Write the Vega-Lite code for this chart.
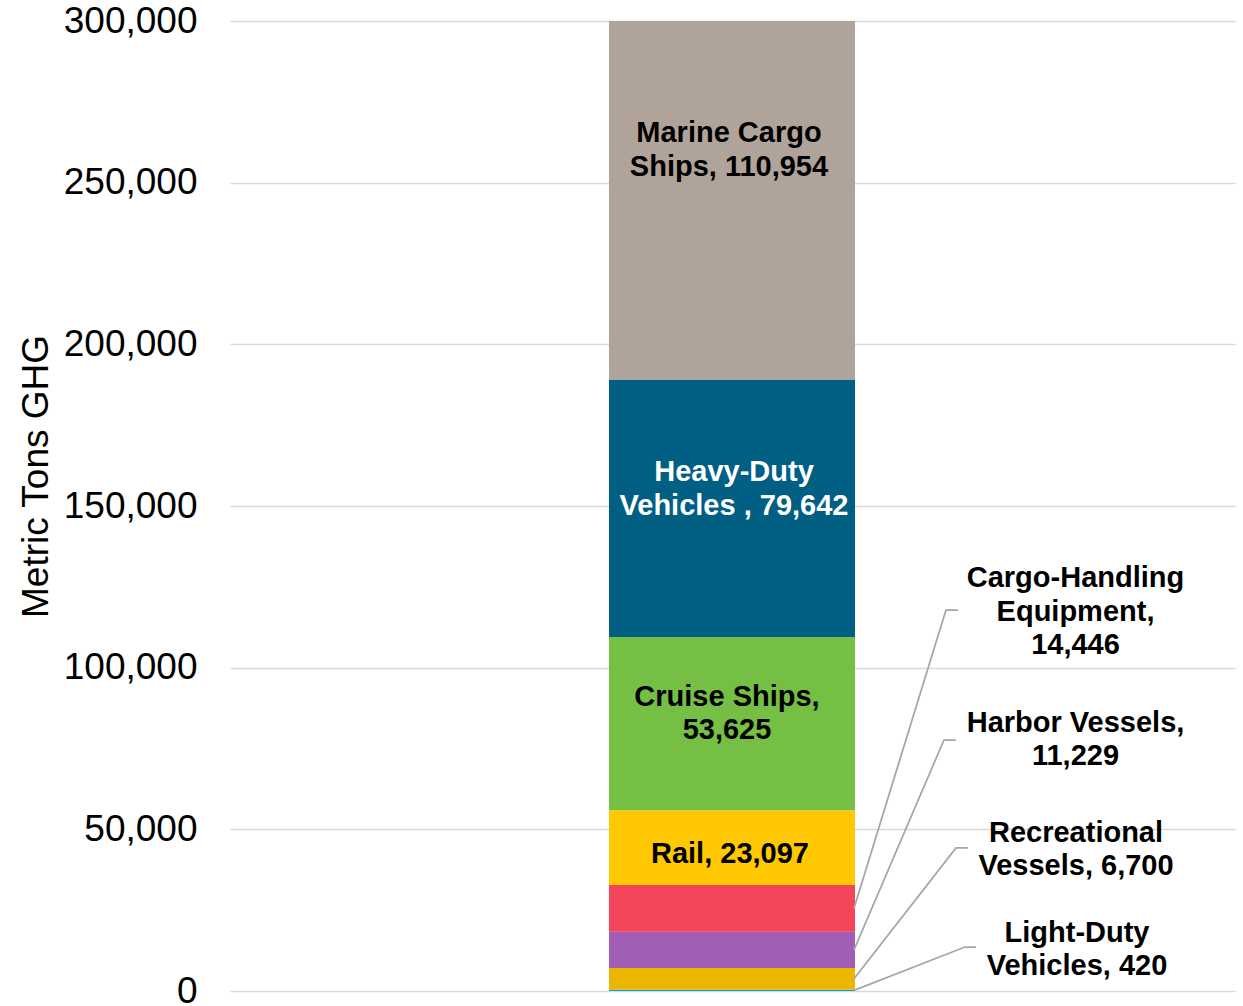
{
  "$schema": "https://vega.github.io/schema/vega-lite/v6.json",
  "width": 1005,
  "height": 970,
  "autosize": "none",
  "padding": {"left": 230, "top": 21, "right": 8, "bottom": 15},
  "background": "white",
  "config": {
    "view": {"stroke": null},
    "font": "Liberation Sans",
    "axisY": {
      "format": ",d",
      "ticks": false,
      "domain": false,
      "grid": true,
      "gridColor": "#D9D9D9",
      "gridWidth": 1.5,
      "labelFont": "Liberation Sans",
      "labelFontSize": 37,
      "labelColor": "black",
      "labelPadding": 33,
      "titleFont": "Liberation Sans",
      "titleFontSize": 37,
      "titleFontWeight": "normal",
      "titleColor": "black",
      "titlePadding": 8,
      "titleY": 455
    }
  },
  "datasets": {
    "segments": [
      {"category": "Light-Duty Vehicles", "value": 420, "rank": 1},
      {"category": "Recreational Vessels", "value": 6700, "rank": 2},
      {"category": "Harbor Vessels", "value": 11229, "rank": 3},
      {"category": "Cargo-Handling Equipment", "value": 14446, "rank": 4},
      {"category": "Rail", "value": 23097, "rank": 5},
      {"category": "Cruise Ships", "value": 53625, "rank": 6},
      {"category": "Heavy-Duty Vehicles", "value": 79642, "rank": 7},
      {"category": "Marine Cargo Ships", "value": 110954, "rank": 8}
    ],
    "labels": [
      {"text": "Marine Cargo\nShips, 110,954", "x": 49.65, "y": 265360, "light": false},
      {"text": "Heavy-Duty\nVehicles , 79,642", "x": 50.15, "y": 160500, "light": true},
      {"text": "Cruise Ships,\n53,625", "x": 49.45, "y": 90930, "light": false},
      {"text": "Rail, 23,097", "x": 49.75, "y": 42400, "light": false},
      {"text": "Cargo-Handling\nEquipment,\n14,446", "x": 84.13, "y": 127730, "light": false},
      {"text": "Harbor Vessels,\n11,229", "x": 84.13, "y": 82890, "light": false},
      {"text": "Recreational\nVessels, 6,700", "x": 84.18, "y": 48870, "light": false},
      {"text": "Light-Duty\nVehicles, 420", "x": 84.28, "y": 17940, "light": false}
    ],
    "leaders": [
      {"group": "Cargo-Handling Equipment", "pt": 1, "x": 62.09, "y": 25572},
      {"group": "Cargo-Handling Equipment", "pt": 2, "x": 71.24, "y": 117835},
      {"group": "Cargo-Handling Equipment", "pt": 3, "x": 72.44, "y": 117835},
      {"group": "Harbor Vessels", "pt": 1, "x": 62.09, "y": 12735},
      {"group": "Harbor Vessels", "pt": 2, "x": 71.04, "y": 77629},
      {"group": "Harbor Vessels", "pt": 3, "x": 72.24, "y": 77629},
      {"group": "Recreational Vessels", "pt": 1, "x": 62.09, "y": 3770},
      {"group": "Recreational Vessels", "pt": 2, "x": 72.24, "y": 44227},
      {"group": "Recreational Vessels", "pt": 3, "x": 73.43, "y": 44227},
      {"group": "Light-Duty Vehicles", "pt": 1, "x": 62.09, "y": 210},
      {"group": "Light-Duty Vehicles", "pt": 2, "x": 73.13, "y": 13608},
      {"group": "Light-Duty Vehicles", "pt": 3, "x": 74.23, "y": 13608}
    ]
  },
  "layer": [
    {
      "data": {"name": "segments"},
      "transform": [
        {"stack": "value", "groupby": [], "sort": [{"field": "rank", "order": "ascending"}], "as": ["v0", "v1"]}
      ],
      "mark": {"type": "rect", "clip": true},
      "encoding": {
        "x": {"datum": 37.71, "type": "quantitative", "scale": {"domain": [0, 100], "nice": false, "zero": false}, "axis": null},
        "x2": {"datum": 62.19},
        "y": {
          "field": "v0",
          "type": "quantitative",
          "title": "Metric Tons GHG",
          "scale": {"domain": [0, 300000], "nice": false},
          "axis": {"values": [0, 50000, 100000, 150000, 200000, 250000, 300000]}
        },
        "y2": {"field": "v1"},
        "color": {
          "field": "category",
          "type": "nominal",
          "scale": {
            "domain": ["Light-Duty Vehicles", "Recreational Vessels", "Harbor Vessels", "Cargo-Handling Equipment", "Rail", "Cruise Ships", "Heavy-Duty Vehicles", "Marine Cargo Ships"],
            "range": ["#00A3E0", "#EBB600", "#A05FB4", "#F5455B", "#FFC800", "#74BF44", "#005F83", "#B0A39A"]
          },
          "legend": null
        }
      }
    },
    {
      "data": {"name": "leaders"},
      "mark": {"type": "line", "color": "#A6A6A6", "strokeWidth": 1.75},
      "encoding": {
        "x": {"field": "x", "type": "quantitative"},
        "y": {"field": "y", "type": "quantitative", "title": "Metric Tons GHG", "axis": {"values": [0, 50000, 100000, 150000, 200000, 250000, 300000]}},
        "detail": {"field": "group"},
        "order": {"field": "pt", "type": "quantitative"}
      }
    },
    {
      "data": {"name": "labels"},
      "mark": {"type": "text", "font": "Liberation Sans", "fontWeight": "bold", "fontSize": 29, "lineHeight": 33.5, "lineBreak": "\n", "align": "center", "baseline": "middle"},
      "encoding": {
        "x": {"field": "x", "type": "quantitative"},
        "y": {"field": "y", "type": "quantitative", "title": "Metric Tons GHG", "axis": {"values": [0, 50000, 100000, 150000, 200000, 250000, 300000]}},
        "text": {"field": "text"},
        "color": {"condition": {"test": "datum.light", "value": "white"}, "value": "black"}
      }
    }
  ]
}
